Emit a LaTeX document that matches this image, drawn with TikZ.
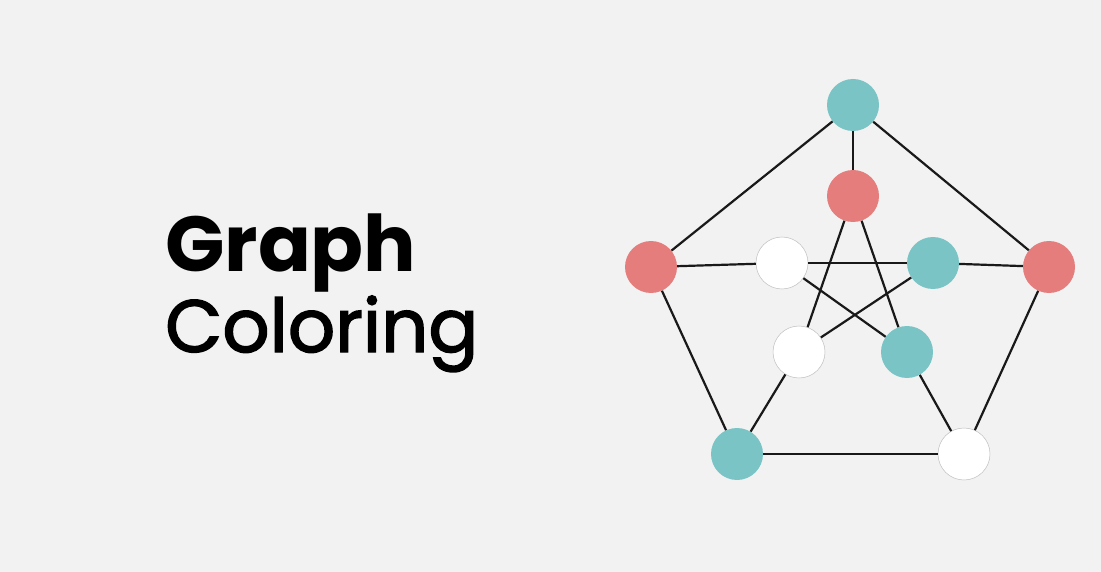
\documentclass[tikz,border=0pt]{standalone}
\usepackage{fontspec}
\setmainfont{Poppins}
\newfontfamily\colfont[FakeBold=2]{Poppins}
\definecolor{bgpaper}{HTML}{F2F2F2}
\definecolor{tealv}{HTML}{7AC4C6}
\definecolor{redv}{HTML}{E57D7D}
\tikzset{
  vtx/.style={circle,minimum size=52pt,inner sep=0pt},
  tealvtx/.style={vtx,fill=tealv},
  redvtx/.style={vtx,fill=redv},
  whitevtx/.style={vtx,fill=white,draw=black!25,line width=0.5pt},
  gedge/.style={line width=2.2pt,black!90}
}
\begin{document}
\begin{tikzpicture}[x=1pt,y=-1pt]
\fill[bgpaper] (0,0) rectangle (1101,572);
\useasboundingbox (0,0) rectangle (1101,572);

\node[anchor=base west,inner sep=0pt,font=\fontsize{78}{80}\selectfont\bfseries] (title1) at (165,272) {Graph};
\node[anchor=base west,inner sep=0pt,font=\fontsize{74}{80}\colfont] (title2) at (165,352) {Coloring};

% outer ring
\node[tealvtx] (otop) at (853,105) {};
\node[redvtx] (oright) at (1049,267) {};
\node[whitevtx] (obr) at (964,454) {};
\node[tealvtx] (obl) at (737,454) {};
\node[redvtx] (oleft) at (651,267) {};

% inner star
\node[redvtx] (itop) at (853,196) {};
\node[tealvtx] (iright) at (933,263) {};
\node[tealvtx] (ibr) at (907,352) {};
\node[whitevtx] (ibl) at (799,352) {};
\node[whitevtx] (ileft) at (782,263) {};

\draw[gedge] (otop) -- (oright);
\draw[gedge] (oright) -- (obr);
\draw[gedge] (obr) -- (obl);
\draw[gedge] (obl) -- (oleft);
\draw[gedge] (oleft) -- (otop);

\draw[gedge] (otop) -- (itop);
\draw[gedge] (oright) -- (iright);
\draw[gedge] (obr) -- (ibr);
\draw[gedge] (obl) -- (ibl);
\draw[gedge] (oleft) -- (ileft);

\draw[gedge] (itop) -- (ibl);
\draw[gedge] (itop) -- (ibr);
\draw[gedge] (ileft) -- (iright);
\draw[gedge] (ileft) -- (ibr);
\draw[gedge] (iright) -- (ibl);
\end{tikzpicture}
\end{document}
